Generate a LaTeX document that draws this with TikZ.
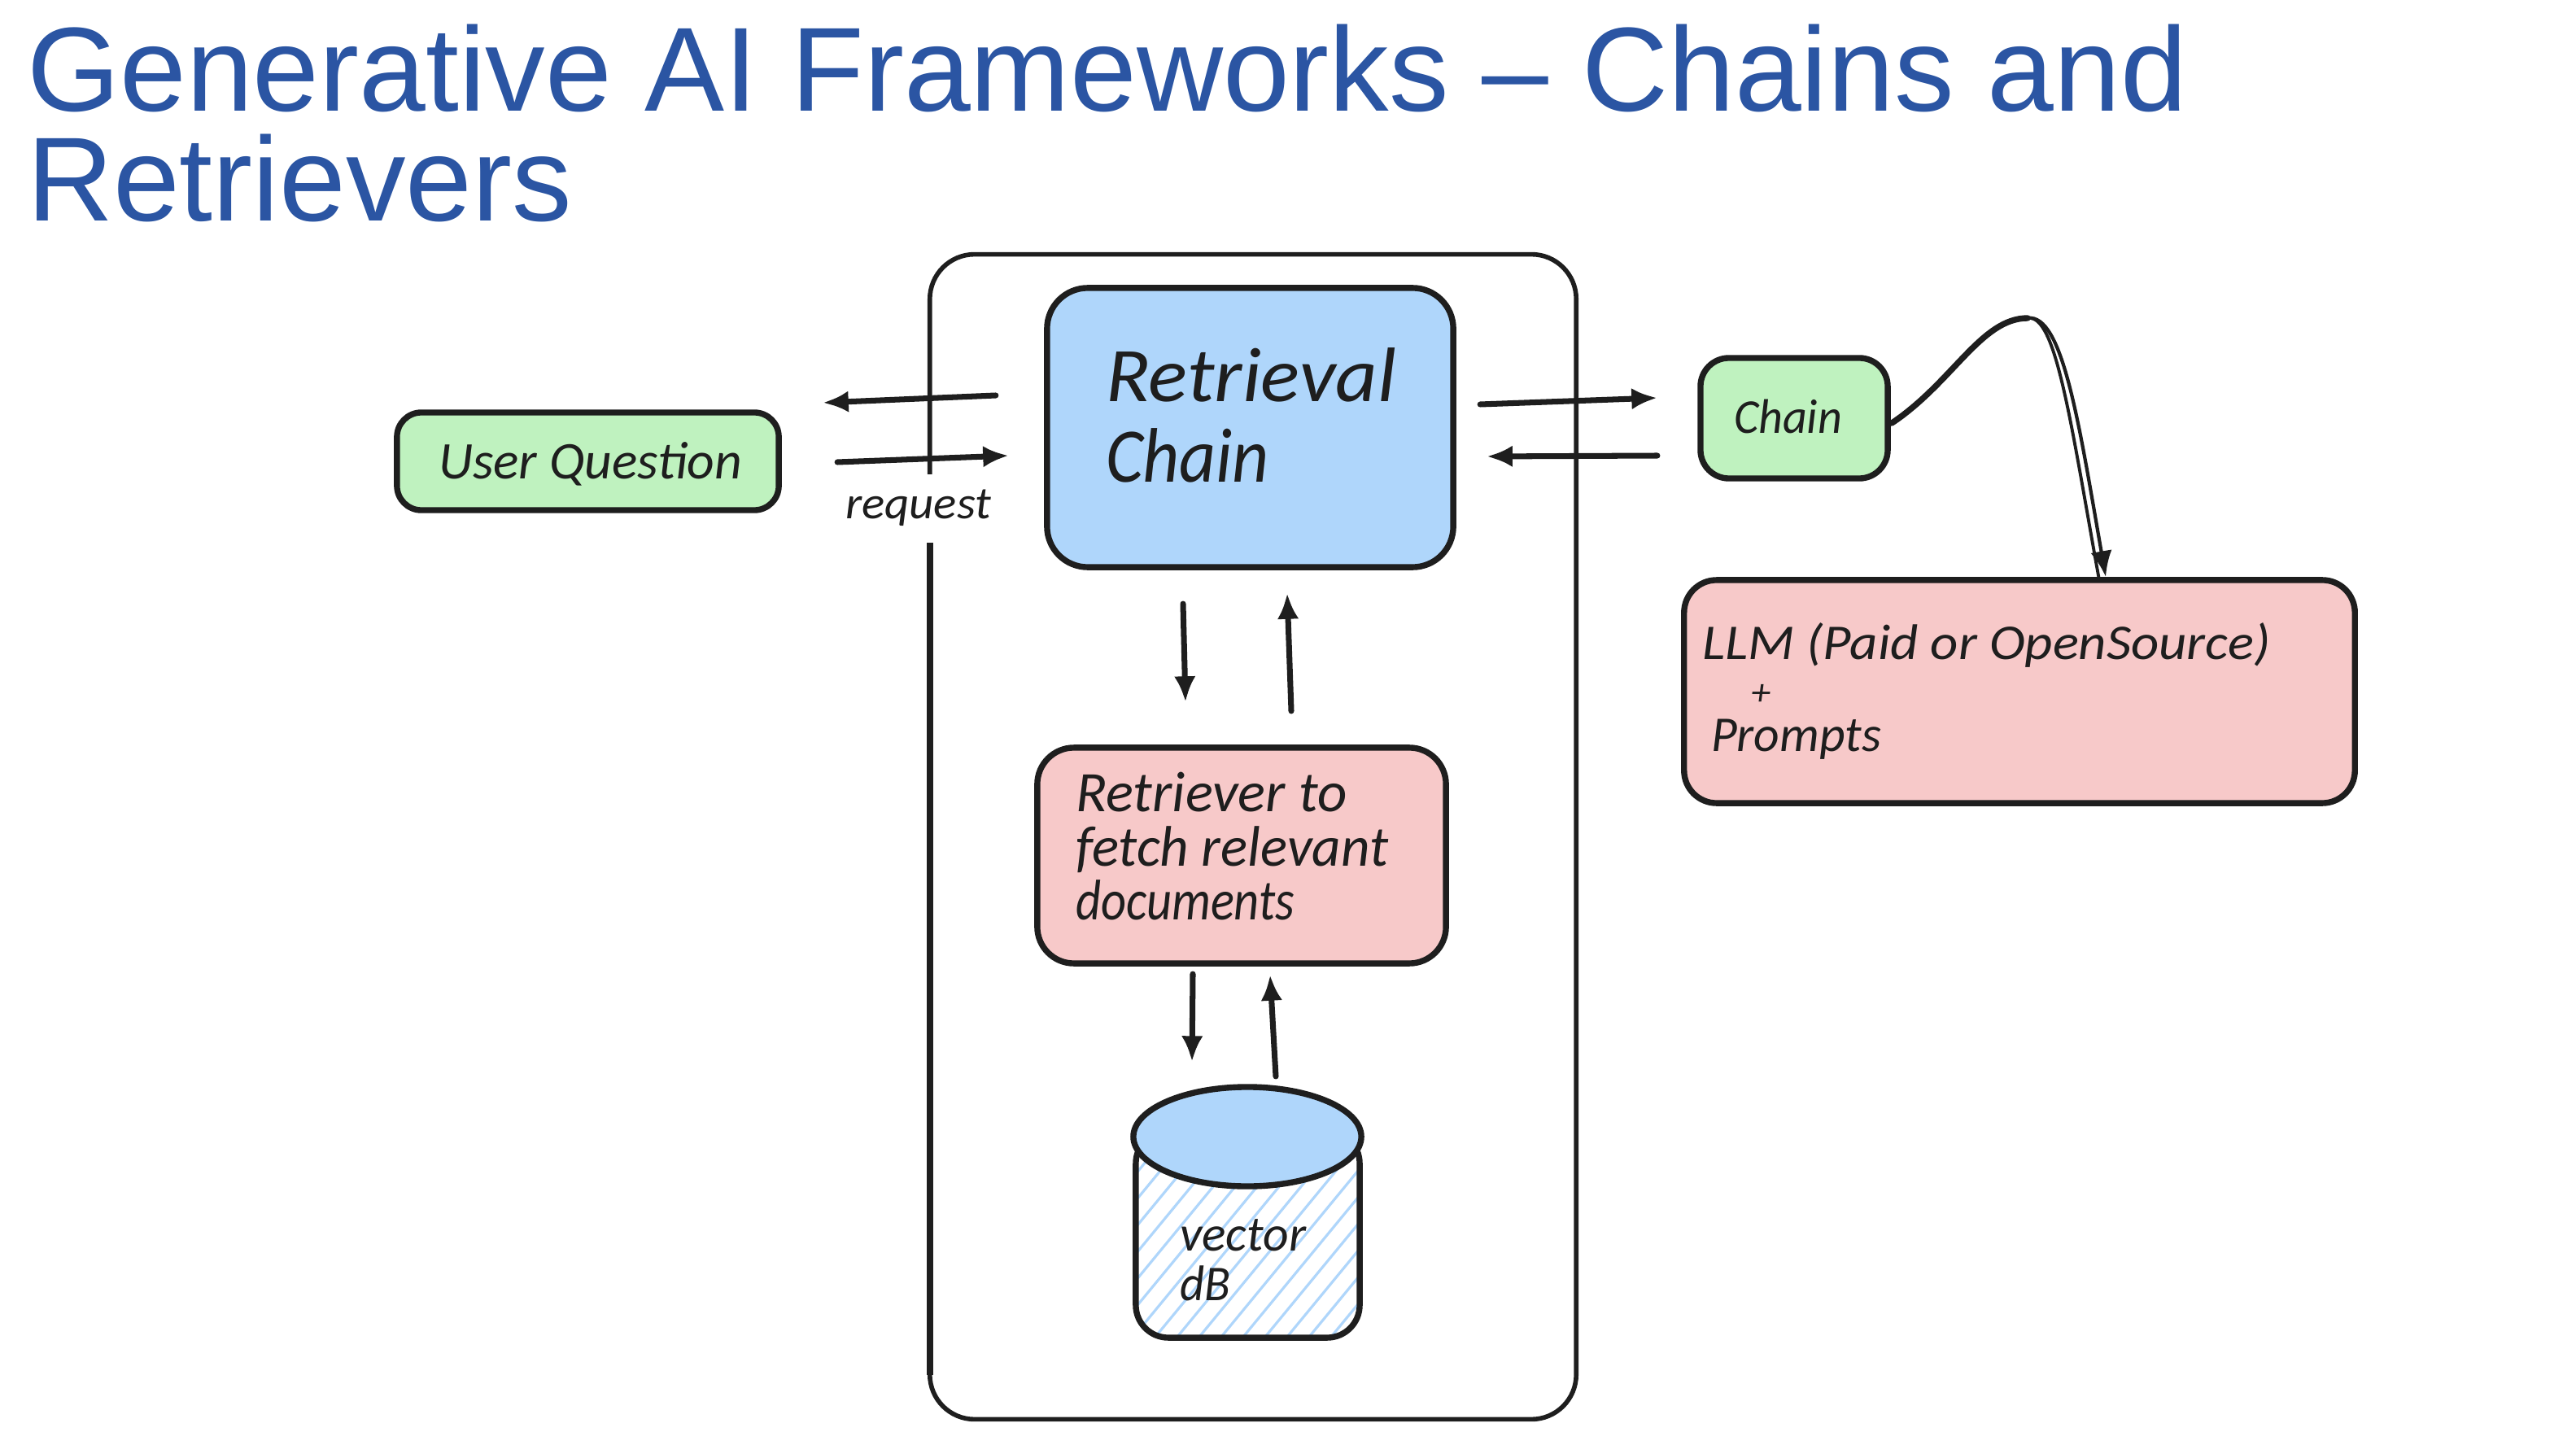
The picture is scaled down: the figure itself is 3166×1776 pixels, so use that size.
\documentclass[tikz,border=0pt]{standalone}
\usepackage{fontspec}
\setmainfont{Liberation Sans}
\newfontfamily\handfont{Carlito}
\usetikzlibrary{arrows.meta,shapes.geometric}
\definecolor{ink}{HTML}{1E1E1E}
\definecolor{boxgreen}{HTML}{BFF2BF}
\definecolor{boxblue}{HTML}{AFD6FB}
\definecolor{boxpink}{HTML}{F7C9C9}
\definecolor{titleblue}{HTML}{2B55A3}
% hand text: measured width in cm (1 px = 0.01 cm), font size in pt, text
\newcommand{\hw}[3]{\resizebox{#1cm}{\height}{\fontsize{#2}{#2}\selectfont\handfont\itshape #3}}
\tikzset{
  x=0.01cm,y=-0.01cm,
  sketchbox/.style={draw=ink,line width=2.1pt,inner sep=0pt,outer sep=0pt},
  hand/.style={inner sep=0pt,outer sep=0pt,anchor=base west,text=ink},
  titletext/.style={inner sep=0pt,outer sep=0pt,anchor=base west,text=titleblue,font=\fontsize{41.8}{41.8}\selectfont},
  arr/.style={draw=ink,line width=2pt,line cap=round,-{Latex[length=9pt,width=7.5pt]}},
  hatch/.style={draw=boxblue,line width=0.9pt},
}
\begin{document}
\begin{tikzpicture}
\useasboundingbox (0,0) rectangle (3166,1776);
\fill[white] (0,0) rectangle (3166,1776);

% title
\node[titletext] (title1) at (33,137) {Generative AI Frameworks – Chains and};
\node[titletext] (title2) at (33,272) {Retrievers};

% outer frame
\node[sketchbox,line width=1.6pt,rounded corners=0.55cm,minimum width=7.94cm,minimum height=14.31cm] (frame) at (1540,1028.5) {};
\draw[ink,line width=2.2pt] (1143,667) -- (1143,1690);

% boxes
\node[sketchbox,fill=boxgreen,rounded corners=0.3cm,minimum width=4.69cm,minimum height=1.2cm] (user) at (722.5,567) {};
\node[sketchbox,fill=boxblue,rounded corners=0.5cm,minimum width=4.99cm,minimum height=3.43cm] (retrieval) at (1536.5,525.5) {};
\node[sketchbox,fill=boxpink,rounded corners=0.45cm,minimum width=5.02cm,minimum height=2.65cm] (retriever) at (1526,1051.5) {};
\node[sketchbox,fill=boxgreen,rounded corners=0.35cm,minimum width=2.3cm,minimum height=1.48cm] (chain) at (2205,514) {};
\node[sketchbox,fill=boxpink,rounded corners=0.4cm,minimum width=8.24cm,minimum height=2.74cm] (llm) at (2482,850) {};

% database cylinder
\begin{scope}
  \clip[rounded corners=0.4cm] (1396,1390) rectangle (1671,1644);
  \foreach \k in {0,...,18}{
    \draw[hatch] (1190+27*\k,1660) -- (1400+27*\k,1405);
  }
\end{scope}
\node[sketchbox,rounded corners=0.4cm,minimum width=2.75cm,minimum height=2.54cm] (dbbody) at (1533.5,1517) {};
\node[sketchbox,shape=ellipse,fill=boxblue,minimum width=2.8cm,minimum height=1.22cm] (dbtop) at (1533,1397) {};

% labels
\node[hand] (tuser) at (539,588) {\hw{3.73}{18.5}{User Question}};
\node[hand] (tretr1) at (1359,494) {\hw{3.57}{27}{Retrieval}};
\node[hand] (tretr2) at (1359,592) {\hw{2.01}{27}{Chain}};
\node[hand] (tdoc1) at (1322,997) {\hw{3.33}{20}{Retriever to}};
\node[hand] (tdoc2) at (1322,1064) {\hw{3.84}{20}{fetch relevant}};
\node[hand] (tdoc3) at (1322,1130) {\hw{2.69}{20}{documents}};
\node[hand] (tchain) at (2131,533) {\hw{1.33}{17}{Chain}};
\node[hand] (tllm1) at (2092,810) {\hw{6.98}{17.5}{LLM (Paid or OpenSource)}};
\node[hand] (tllm2) at (2152,866) {\hw{0.24}{13}{+}};
\node[hand] (tllm3) at (2103,923) {\hw{2.09}{17.5}{Prompts}};
\node[hand] (tvec1) at (1450,1537) {\hw{1.55}{17.5}{vector}};
\node[hand] (tvec2) at (1450,1598) {\hw{0.62}{17.5}{dB}};

% request label on a white patch that interrupts the frame
\node[fill=white,inner sep=0pt,minimum width=1.9cm,minimum height=0.84cm] (reqpatch) at (1129,625) {};
\node[hand] (treq) at (1039,637) {\hw{1.79}{16}{request}};

% connectors
\draw[arr] ([shift={(-63,-39.5)}]retrieval.west) -- ([shift={(54,-72)}]user.east);
\draw[arr] ([shift={(72,1)}]user.east) -- ([shift={(-47,34.5)}]retrieval.west);
\draw[arr] ([shift={(33,-28.5)}]retrieval.east) -- ([shift={(-53,-25)}]chain.west);
\draw[arr] ([shift={(-53,46)}]chain.west) -- ([shift={(41,35.5)}]retrieval.east);
\draw[arr] ([shift={(-82.5,45)}]retrieval.south) -- ([shift={(-69,-56)}]retriever.north);
\draw[arr] ([shift={(61,-45)}]retriever.north) -- ([shift={(45.5,32)}]retrieval.south);
\draw[arr] ([shift={(-60,13)}]retriever.south) -- ([shift={(-68,-31)}]dbtop.north);
\draw[arr] ([shift={(35,-13)}]dbtop.north) -- ([shift={(35,14)}]retriever.south);

% curved connector from Chain to the LLM box
\coordinate (apex) at (2492,391);
\draw[draw=ink,line width=2.1pt,line cap=round] ([shift={(5,6)}]chain.east) .. controls (2400,470) and (2435,391) .. (apex);
\draw[draw=ink,line width=1.1pt,line cap=round] (apex) .. controls (2527,385) and (2545,520) .. ([shift={(98,0)}]llm.north);
\draw[arr,line width=1.2pt] (apex) .. controls (2535,385) and (2555,520) .. ([shift={(106,-4)}]llm.north);
\end{tikzpicture}
\end{document}
